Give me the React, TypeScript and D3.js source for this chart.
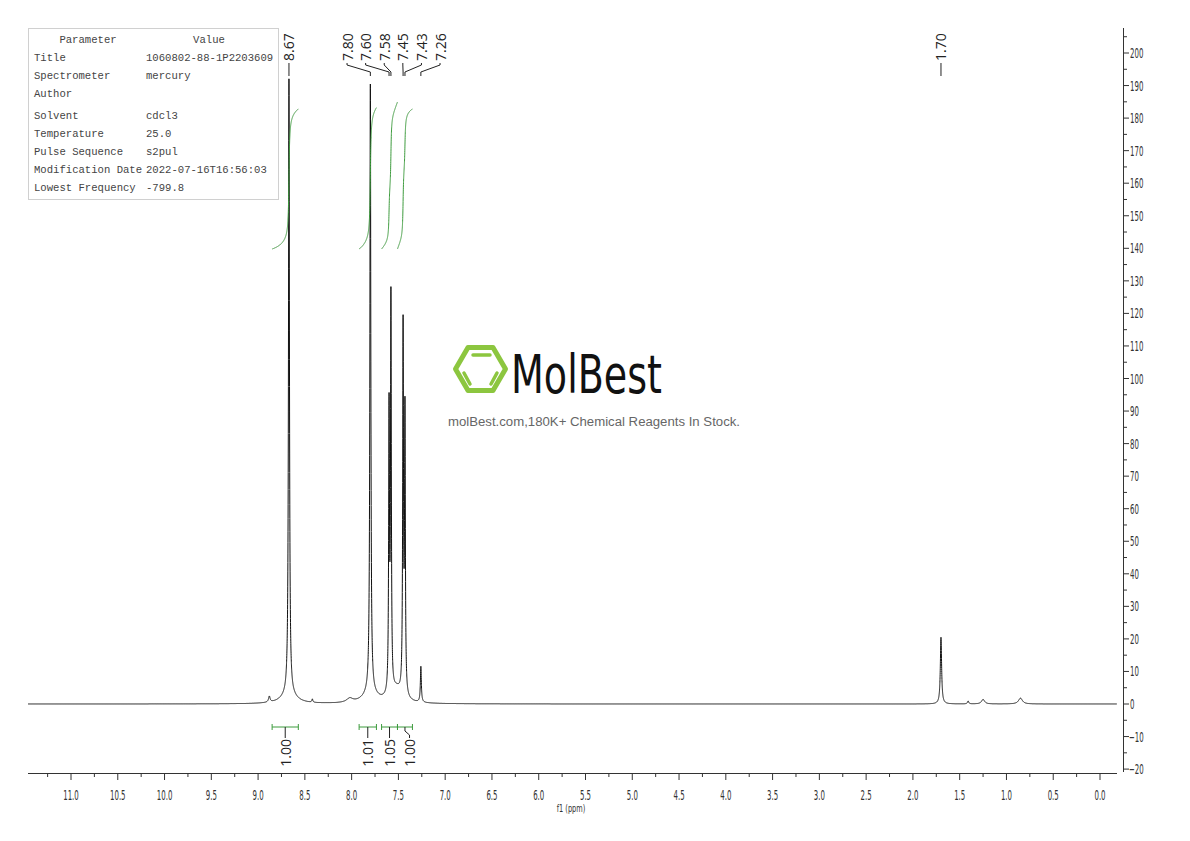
import React from "react";
import * as d3 from "d3";

// ---------- data ----------
const xTickValues = [11.0, 10.5, 10.0, 9.5, 9.0, 8.5, 8.0, 7.5, 7.0, 6.5, 6.0, 5.5, 5.0, 4.5, 4.0, 3.5, 3.0, 2.5, 2.0, 1.5, 1.0, 0.5, 0.0];
const yTickValues = [200, 190, 180, 170, 160, 150, 140, 130, 120, 110, 100, 90, 80, 70, 60, 50, 40, 30, 20, 10, 0, -10, -20];

// peak list: centre (ppm), height (intensity), half-width (ppm)
const peakPpm = [8.67, 7.80, 7.60, 7.58, 7.45, 7.43, 7.26, 1.70, 8.88, 8.42, 8.02, 1.41, 1.25, 0.85, 8.67, 7.80, 7.52];
const peakHeight = [189, 187, 86, 120, 112, 86, 11, 20.5, 1.8, 1.0, 1.2, 0.9, 1.4, 1.8, 3, 3, 4];
const peakHalfWidth = [0.006, 0.006, 0.005, 0.005, 0.005, 0.005, 0.006, 0.008, 0.01, 0.006, 0.04, 0.008, 0.02, 0.025, 0.09, 0.09, 0.07];

// labelled peaks at the top
const clusterLabels = ["7.80", "7.60", "7.58", "7.45", "7.43", "7.26"];
const singleLabels = ["8.67", "1.70"];

// integration regions
const integralFrom = [8.85, 7.92, 7.68, 7.51];
const integralTo = [8.57, 7.735, 7.51, 7.35];
const integralValues = [1.0, 1.01, 1.05, 1.0];

// parameter table
const paramNames = ["Title", "Spectrometer", "Author", "Solvent", "Temperature", "Pulse Sequence", "Modification Date", "Lowest Frequency"];
const paramValues = ["1060802-88-1P2203609", "mercury", "", "cdcl3", "25.0", "s2pul", "2022-07-16T16:56:03", "-799.8"];

// ---------- helpers ----------
const ppmMin = -0.18;
const ppmMax = 11.46;
const x = d3.scaleLinear().domain([11, 0]).range([71, 1100]);
const y = d3.scaleLinear().domain([0, 200]).range([704, 53]);

function intensity(p: number): number {
  let s = 0;
  for (let i = 0; i < peakPpm.length; i++) {
    const w = peakHalfWidth[i];
    const d = p - peakPpm[i];
    s += (peakHeight[i] * w * w) / (w * w + d * d);
  }
  return s;
}

const GREEN = "#3d9b3d";
const condensed = "'DejaVu Sans', sans-serif";

export default function App() {
  const grid = d3.range(ppmMin, ppmMax, 0.0005).concat(peakPpm).sort((a, b) => b - a);
  const spectrum = grid.map((p) => [p, intensity(p)] as [number, number]);
  const line = d3
    .line<[number, number]>()
    .x((d) => x(d[0]))
    .y((d) => y(d[1]));

  // integral curves
  const integralPaths = integralFrom.map((a, k) => {
    const b = integralTo[k];
    const pts = d3.range(a, b, -0.0005).concat([b]);
    const vals = pts.map(intensity);
    const cum: number[] = [0];
    for (let i = 1; i < pts.length; i++) cum.push(cum[i - 1] + ((vals[i] + vals[i - 1]) / 2) * (pts[i - 1] - pts[i]));
    const total = cum[cum.length - 1];
    const h = 140 * integralValues[k];
    const path = d3
      .line<number>()
      .x((_, i) => x(pts[i]))
      .y((c) => 249 - (c / total) * h)(cum);
    return path || "";
  });

  // integral label positions
  const centers = integralFrom.map((a, k) => (x(a) + x(integralTo[k])) / 2);
  const labelXs: number[] = [];
  centers.forEach((c, i) => {
    let v = c;
    if (i > 0 && v - labelXs[i - 1] < 20) v = labelXs[i - 1] + 20;
    labelXs.push(v);
  });

  // cluster label layout
  const clusterPeakX = clusterLabels.map((l) => x(+l));
  const spacing = 18.6;
  const clusterMean = d3.mean(clusterPeakX) as number;
  const clusterStart = clusterMean - (spacing * (clusterLabels.length - 1)) / 2 - 3;

  const xMinor = d3.range(11.25, -0.01, -0.25);
  const yMinor = d3.range(205, -21, -5);

  const rowY = [57, 75, 93, 115, 133, 151, 169, 187];

  return (
    <svg width={1190} height={841} style={{ position: "absolute", left: 0, top: 0, background: "#fff" }}>
      {/* parameter table */}
      <rect x={28.5} y={28.5} width={250} height={171} fill="#fff" stroke="#d0d0d0" />
      <g fontFamily="'Liberation Mono', monospace" fontSize={10.6} fill="#444">
        <text x={88} y={43} textAnchor="middle">Parameter</text>
        <text x={209} y={43} textAnchor="middle">Value</text>
        {paramNames.map((n, i) => (
          <text key={n} x={34} y={rowY[i] + 4}>{n}</text>
        ))}
        {paramValues.map((v, i) => (
          <text key={"v" + i} x={146} y={rowY[i] + 4}>{v}</text>
        ))}
      </g>

      {/* logo */}
      <g>
        <polygon
          points="455.5,369 468,347.5 493,347.5 505.5,369 493,390.5 468,390.5"
          fill="none"
          stroke="#8cc63f"
          strokeWidth={5}
          strokeLinejoin="round"
        />
        <line x1={473} y1={355} x2={490} y2={355} stroke="#8cc63f" strokeWidth={3.5} strokeLinecap="round" />
        <line x1={464} y1={373} x2={470} y2={384} stroke="#8cc63f" strokeWidth={3.5} strokeLinecap="round" />
        <line x1={497} y1={373} x2={491} y2={384} stroke="#8cc63f" strokeWidth={3.5} strokeLinecap="round" />
        <text x={511} y={393} fontFamily="'DejaVu Sans', sans-serif" fontSize={54} fill="#111" textLength={151} lengthAdjust="spacingAndGlyphs">MolBest</text>
        <text x={448} y={426} fontFamily="'Liberation Sans', Arial, sans-serif" fontSize={12.5} fill="#666" textLength={292} lengthAdjust="spacingAndGlyphs">molBest.com,180K+ Chemical Reagents In Stock.</text>
      </g>

      {/* spectrum */}
      <path d={line(spectrum) || ""} fill="none" stroke="#111" strokeWidth={1} />

      {/* integral curves */}
      {integralPaths.map((d, i) => (
        <path key={"ic" + i} d={d} fill="none" stroke={GREEN} strokeWidth={1} />
      ))}

      {/* integral brackets and labels */}
      {integralFrom.map((a, i) => {
        const x1 = x(a);
        const x2 = x(integralTo[i]);
        const c = centers[i];
        const lx = labelXs[i];
        return (
          <g key={"ib" + i}>
            <line x1={x1} y1={727} x2={x2} y2={727} stroke={GREEN} />
            <line x1={x1} y1={724} x2={x1} y2={730} stroke={GREEN} />
            <line x1={x2} y1={724} x2={x2} y2={730} stroke={GREEN} />
            <path d={`M${c},727 L${c},731 L${lx},735 L${lx},738`} fill="none" stroke="#222" />
            <text
              transform={`translate(${lx},739) rotate(-90)`}
              textAnchor="end"
              dominantBaseline="central"
              fontFamily="'Open Sans', sans-serif"
              fontSize={14}
              fill="#222"
            >
              {integralValues[i].toFixed(2)}
            </text>
          </g>
        );
      })}

      {/* peak labels */}
      <g fontFamily="'Open Sans', sans-serif" fontSize={14} fill="#222">
        {singleLabels.map((l) => {
          const px = x(+l);
          return (
            <g key={l}>
              <text transform={`translate(${px},61) rotate(-90)`} textAnchor="start" dominantBaseline="central">{l}</text>
              <line x1={px} y1={63} x2={px} y2={76} stroke="#222" />
            </g>
          );
        })}
        {clusterLabels.map((l, i) => {
          const lx = clusterStart + i * spacing;
          const px = clusterPeakX[i];
          return (
            <g key={l}>
              <text transform={`translate(${lx},61) rotate(-90)`} textAnchor="start" dominantBaseline="central">{l}</text>
              <path d={`M${lx},63 L${lx},65 L${px},72 L${px},76`} fill="none" stroke="#222" />
            </g>
          );
        })}
      </g>

      {/* x axis */}
      <g stroke="#333">
        <line x1={28} y1={773.5} x2={1117} y2={773.5} />
        {xMinor.map((v) => (
          <line key={"xm" + v} x1={x(v)} x2={x(v)} y1={773.5} y2={Math.abs((v * 2) % 1) < 1e-6 ? 780 : 777} />
        ))}
      </g>
      <g fontFamily={condensed} fontSize={14} fill="#333">
        {xTickValues.map((v) => (
          <text key={"xt" + v} transform={`translate(${x(v)},800) scale(0.5,1)`} textAnchor="middle">{v.toFixed(1)}</text>
        ))}
        <text transform={`translate(571,812) scale(0.6,1)`} textAnchor="middle" fontSize={11}>f1 (ppm)</text>
      </g>

      {/* y axis */}
      <g stroke="#333">
        <line x1={1123.5} y1={28} x2={1123.5} y2={772} />
        {yMinor.map((v) => (
          <line key={"ym" + v} x1={1123.5} x2={v % 10 === 0 ? 1129 : 1127} y1={y(v)} y2={y(v)} />
        ))}
      </g>
      <g fontFamily={condensed} fontSize={14} fill="#333">
        {yTickValues.map((v) => (
          <text key={"yt" + v} transform={`translate(${v < 0 ? 1129 : 1130},${y(v) + 5}) scale(0.5,1)`} textAnchor="start">
            {v < 0 ? "\u2212" + Math.abs(v) : v}
          </text>
        ))}
      </g>
    </svg>
  );
}
